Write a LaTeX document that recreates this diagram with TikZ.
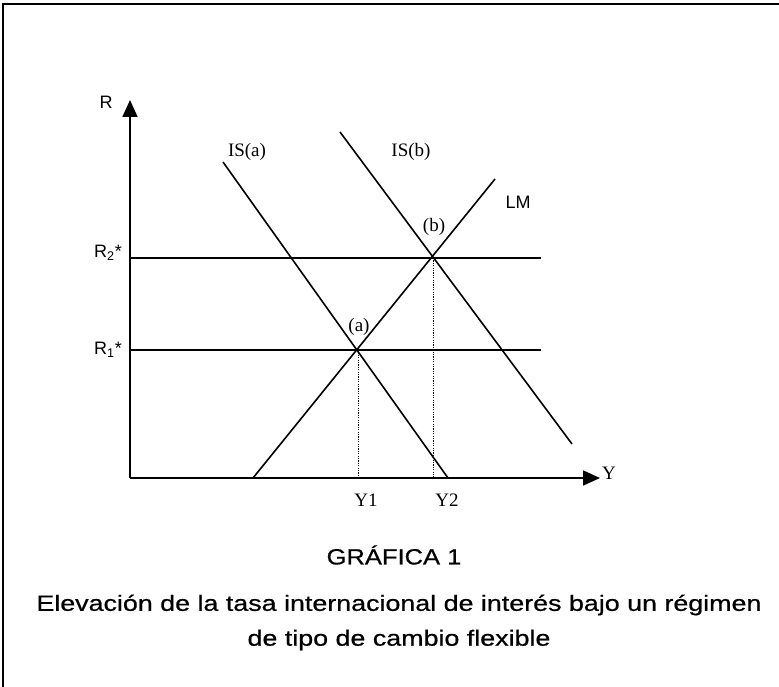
\documentclass[tikz,border=0pt]{standalone}
\usepackage{fontspec}
\setmainfont{Liberation Serif}
\setsansfont{Liberation Sans}
\newfontfamily\capfont[FakeBold=0.6]{Liberation Sans}
\usetikzlibrary{arrows.meta}
\begin{document}
\begin{tikzpicture}[x=1pt,y=-1pt,
 frame/.style={line width=1.5pt},
 axis/.style={line width=1.8pt,-{Triangle[width=15pt,length=17pt]}},
 curve/.style={line width=1.6pt},
 level/.style={line width=1.8pt},
 guide/.style={line width=0.9pt, dash pattern=on 1.2pt off 1.2pt},
 serlab/.style={font=\fontsize{19}{19}\selectfont, inner sep=0pt},
 sanslab/.style={font=\sffamily\fontsize{18}{18}\selectfont, inner sep=0pt},
 titlelab/.style={font=\capfont\fontsize{22}{22}\selectfont, inner sep=0pt},
 caplab/.style={font=\capfont\fontsize{22}{22}\selectfont, inner sep=0pt}]
\useasboundingbox (0,0) rectangle (779,687);
% frame
\coordinate (tl) at (3,4); \coordinate (tr) at (779,4); \coordinate (bl) at (3,687);
\draw[frame] (tr) -- (tl) -- (bl);
% axes
\coordinate (O) at (130,478);
\coordinate (ytop) at (130,100);
\coordinate (xend) at (600,478);
\draw[axis] (O) -- (ytop);
\draw[axis] (O) -- (xend);
% levels
\coordinate (r2s) at (130,258); \coordinate (r2e) at (541,258);
\coordinate (r1s) at (130,350); \coordinate (r1e) at (541,350);
\draw[level] (r2s) -- (r2e);
\draw[level] (r1s) -- (r1e);
% curves
\coordinate (lm0) at (253,478); \coordinate (lm1) at (495,179);
\coordinate (isa0) at (223,162); \coordinate (isa1) at (448,478);
\coordinate (isb0) at (340,132); \coordinate (isb1) at (572,444);
\draw[curve] (lm0) -- (lm1);
\draw[curve] (isa0) -- (isa1);
\draw[curve] (isb0) -- (isb1);
% guides
\coordinate (ea) at (358,350); \coordinate (ya) at (358,478);
\coordinate (eb) at (433,258); \coordinate (yb) at (433,478);
\draw[guide] (ea) -- (ya);
\draw[guide] (eb) -- (yb);
% labels
\node[sanslab] (lR) at (106,102) {R};
\node[sanslab] (lR2) at (108,253) {R\textsubscript{2}*};
\node[sanslab] (lR1) at (108,350) {R\textsubscript{1}*};
\node[serlab] (lY) at (609,473) {Y};
\node[serlab] (lY1) at (366,500) {Y1};
\node[serlab] (lY2) at (447,500) {Y2};
\node[serlab] (lISa) at (247,152) {IS(a)};
\node[serlab] (lISb) at (411,152) {IS(b)};
\node[sanslab] (lLM) at (518,202) {LM};
\node[serlab] (la) at (359,327) {(a)};
\node[serlab] (lb) at (434,227) {(b)};
\node[titlelab] (title) at (394,555) {\scalebox{1.16}[1]{GRÁFICA 1}};
\node[caplab] (cap1) at (399,605) {\scalebox{1.22}[1]{Elevación de la tasa internacional de interés bajo un régimen}};
\node[caplab] (cap2) at (399,640) {\scalebox{1.22}[1]{de tipo de cambio flexible}};
\end{tikzpicture}
\end{document}
